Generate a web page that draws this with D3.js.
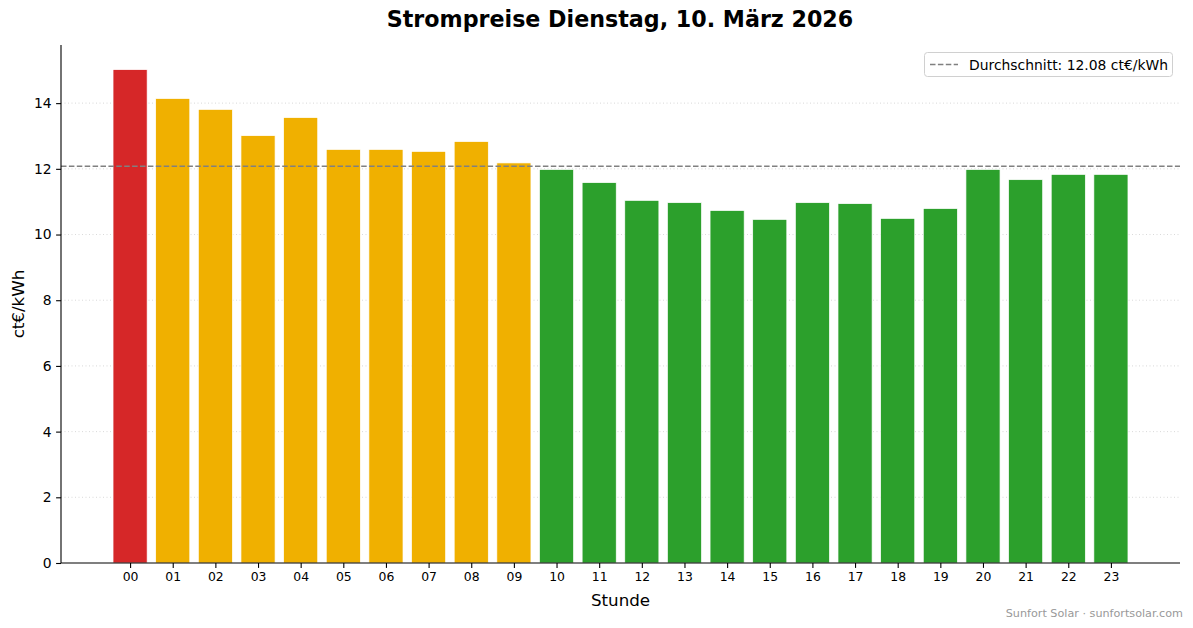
<!DOCTYPE html>
<html>
<head>
<meta charset="utf-8">
<script src="https://cdn.jsdelivr.net/npm/d3@7"></script>
<style>
  body { margin: 0; background: #fff; }
  text { font-family: "DejaVu Sans", sans-serif; }
</style>
</head>
<body>
<script>
// Stunden und Preise (ct/kWh)
const hours = ["00","01","02","03","04","05","06","07","08","09","10","11",
               "12","13","14","15","16","17","18","19","20","21","22","23"];
const prices = [15.02, 14.14, 13.81, 13.01, 13.56, 12.59, 12.59, 12.53, 12.83, 12.18, 11.98, 11.58,
                11.04, 10.97, 10.73, 10.46, 10.97, 10.94, 10.49, 10.79, 11.98, 11.67, 11.83, 11.83];
const average = 12.08;
const yTicks = [0, 2, 4, 6, 8, 10, 12, 14];

const W = 1193, H = 628;
const margin = {top: 45, right: 13, bottom: 65, left: 61};
const width = W - margin.left - margin.right;
const height = H - margin.top - margin.bottom;

const svg = d3.select("body").append("svg")
    .attr("width", W)
    .attr("height", H);

const g = svg.append("g")
    .attr("transform", `translate(${margin.left},${margin.top})`);

// scales (matplotlib-like margins)
const xScale = d3.scaleLinear().domain([-1.62, 24.62]).range([0, width]);
const yScale = d3.scaleLinear().domain([0, 15.77]).range([height, 0]);
const barW = xScale(0.8) - xScale(0);

// grid
g.append("g")
    .selectAll("line")
    .data(yTicks.slice(1))
    .enter()
    .append("line")
    .attr("x1", 0).attr("x2", width)
    .attr("y1", d => yScale(d)).attr("y2", d => yScale(d))
    .attr("stroke", "#cfcfcf")
    .attr("stroke-width", 0.8)
    .attr("stroke-dasharray", "1,2.5");

const maxP = d3.max(prices);
const color = p => p === maxP ? "#d62728" : (p > average ? "#f0b000" : "#2ca02c");

// bars
g.selectAll("rect.bar")
    .data(prices)
    .enter()
    .append("rect")
    .attr("class", "bar")
    .attr("x", (d, i) => xScale(i - 0.4))
    .attr("y", d => yScale(d))
    .attr("width", barW)
    .attr("height", d => height - yScale(d))
    .attr("fill", d => color(d))
    .attr("stroke", "#fff")
    .attr("stroke-width", 0.7);

// average line
g.append("line")
    .attr("x1", 0).attr("x2", width)
    .attr("y1", yScale(average)).attr("y2", yScale(average))
    .attr("stroke", "#808080")
    .attr("stroke-width", 1.5)
    .attr("stroke-dasharray", "5.5,2.4");

// axes
const xAxis = g.append("g")
    .attr("transform", `translate(0,${height})`)
    .call(d3.axisBottom(xScale)
        .tickValues(d3.range(hours.length))
        .tickFormat(i => hours[i])
        .tickSize(4.9).tickPadding(4.5).tickSizeOuter(0));
xAxis.selectAll("text").style("font-size", "12.4px").attr("fill", "#000");

const yAxis = g.append("g")
    .call(d3.axisLeft(yScale)
        .tickValues(yTicks)
        .tickFormat(d3.format("d"))
        .tickSize(4.9).tickPadding(4.5).tickSizeOuter(0));
yAxis.selectAll("text").style("font-size", "13.9px").attr("fill", "#000");

[xAxis, yAxis].forEach(a => {
    a.select(".domain").remove();
    a.selectAll(".tick line").attr("stroke", "#000").attr("stroke-width", 1.1);
});

// spines (left + bottom)
g.append("line")
    .attr("x1", 0).attr("x2", width)
    .attr("y1", height).attr("y2", height)
    .attr("stroke", "#000").attr("stroke-width", 1.1);
g.append("line")
    .attr("x1", 0).attr("x2", 0)
    .attr("y1", 0).attr("y2", height)
    .attr("stroke", "#000").attr("stroke-width", 1.1);

// axis labels
svg.append("text")
    .attr("x", margin.left + width / 2)
    .attr("y", 606)
    .attr("text-anchor", "middle")
    .style("font-size", "16.7px")
    .text("Stunde");

svg.append("text")
    .attr("transform", "rotate(-90)")
    .attr("x", -(margin.top + height / 2))
    .attr("y", 24)
    .attr("text-anchor", "middle")
    .style("font-size", "16.7px")
    .text("ct€/kWh");

// title
svg.append("text")
    .attr("x", 620)
    .attr("y", 27)
    .attr("text-anchor", "middle")
    .style("font-size", "22.2px")
    .style("font-weight", "bold")
    .text("Strompreise Dienstag, 10. März 2026");

// legend
const leg = svg.append("g");
leg.append("rect")
    .attr("x", 924.5).attr("y", 52.5)
    .attr("width", 248).attr("height", 24)
    .attr("rx", 3)
    .attr("fill", "#fff").attr("fill-opacity", 0.8)
    .attr("stroke", "#d0d0d0").attr("stroke-width", 1);
leg.append("line")
    .attr("x1", 930).attr("x2", 958)
    .attr("y1", 64.5).attr("y2", 64.5)
    .attr("stroke", "#808080")
    .attr("stroke-width", 1.5)
    .attr("stroke-dasharray", "5.5,2.4");
leg.append("text")
    .attr("x", 969).attr("y", 69.5)
    .style("font-size", "13.9px")
    .text(`Durchschnitt: ${average.toFixed(2)} ct€/kWh`);

// footer
svg.append("text")
    .attr("x", 1183).attr("y", 617)
    .attr("text-anchor", "end")
    .attr("fill", "#999")
    .style("font-size", "11.2px")
    .text("Sunfort Solar · sunfortsolar.com");
</script>
</body>
</html>
